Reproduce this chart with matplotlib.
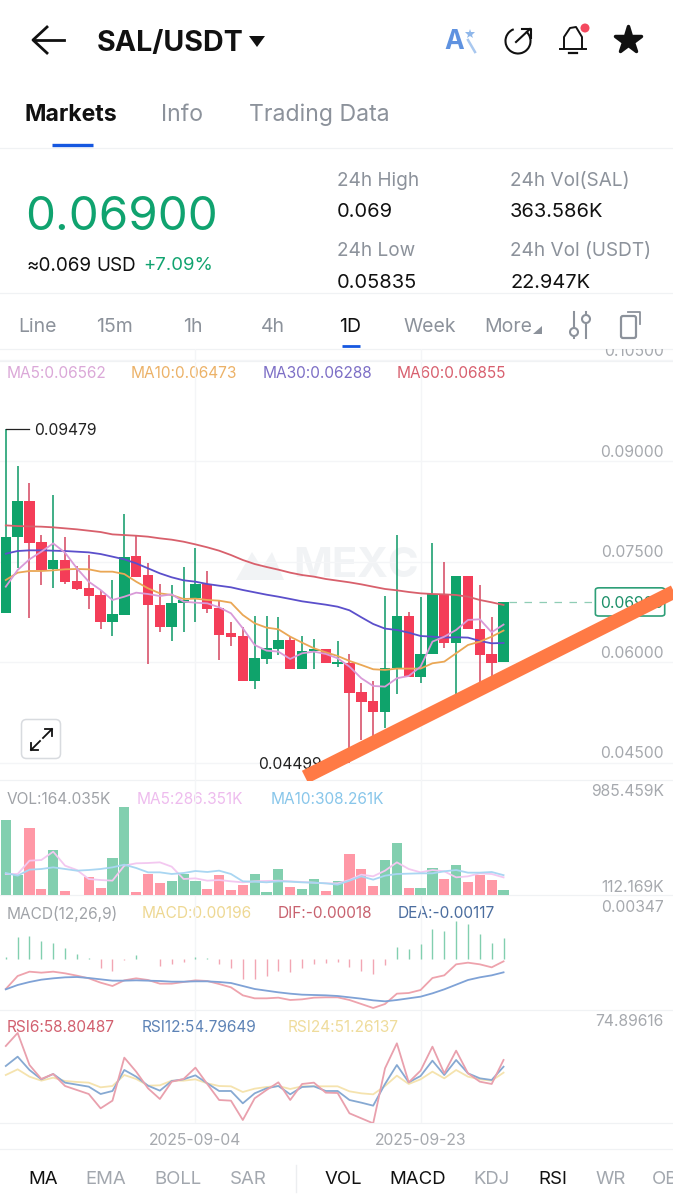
import matplotlib
matplotlib.use('Agg')
from matplotlib import pyplot as plt
from matplotlib.markers import MarkerStyle
from matplotlib.patches import FancyBboxPatch, Circle, Arc, Polygon

plt.rcParams['font.family'] = ['Inter', 'DejaVu Sans']

W, H = 673, 1200

# daily candles, newest last
opens = [0.06730, 0.07863, 0.08399, 0.07788, 0.07386, 0.07530, 0.07212, 0.07103, 0.07003, 0.06601, 0.06705,
         0.07580, 0.07296, 0.06859, 0.06531, 0.06879, 0.06954, 0.07162, 0.06805, 0.06432, 0.06397, 0.05717,
         0.06045, 0.06199, 0.06333, 0.05901, 0.06174, 0.06194, 0.05975, 0.05985, 0.05563, 0.05424, 0.05260,
         0.05921, 0.06690, 0.05786, 0.06124, 0.07018, 0.06283, 0.07284, 0.06492, 0.06124, 0.06010]
closes = [0.07863, 0.08399, 0.07773, 0.07376, 0.07530, 0.07202, 0.07088, 0.06988, 0.06601, 0.06720, 0.07575,
          0.07277, 0.06849, 0.06531, 0.06889, 0.06929, 0.07162, 0.06790, 0.06412, 0.06382, 0.05717, 0.06065,
          0.06219, 0.06338, 0.05901, 0.06169, 0.06194, 0.05985, 0.06, 0.05548, 0.05404, 0.05260, 0.05921,
          0.06690, 0.05786, 0.06124, 0.07018, 0.06283, 0.07284, 0.06492, 0.06109, 0.05985, 0.06900]
highs = [0.09479, 0.08926, 0.08667, 0.07897, 0.08493, 0.07873, 0.07435, 0.07599, 0.07078, 0.07227, 0.08205,
         0.07882, 0.07485, 0.07162, 0.07147, 0.07426, 0.07699, 0.07366, 0.06929, 0.06596, 0.06531, 0.06690,
         0.06695, 0.06671, 0.06373, 0.06392, 0.06343, 0.06194, 0.06313, 0.06124, 0.05687, 0.05727, 0.06989,
         0.07897, 0.06745, 0.06969, 0.07772, 0.07491, 0.07284, 0.07284, 0.07147, 0.06671, 0.06900]
lows = [0.06730, 0.07401, 0.06656, 0.07147, 0.07103, 0.07162, 0.07078, 0.06795, 0.06492, 0.06397, 0.06705,
        0.07277, 0.05970, 0.06457, 0.06323, 0.06447, 0.06596, 0.06730, 0.06040, 0.06248, 0.05717, 0.05598,
        0.05975, 0.06109, 0.05901, 0.05901, 0.05901, 0.05985, 0.05935, 0.04499, 0.04843, 0.04868, 0.05017,
        0.05528, 0.05786, 0.05697, 0.06124, 0.06219, 0.05513, 0.06492, 0.05697, 0.05786, 0.06010]

ma5 = [0.07127, 0.07376, 0.07535, 0.07649, 0.07773, 0.07634, 0.07401, 0.07202, 0.07078, 0.06929, 0.06978,
       0.07038, 0.07018, 0.06988, 0.07013, 0.06904, 0.06889, 0.06879, 0.06820, 0.06730, 0.06507, 0.06258,
       0.06174, 0.06159, 0.06050, 0.06134, 0.06159, 0.06124, 0.06060, 0.05935, 0.05762, 0.05647, 0.05637,
       0.05762, 0.05796, 0.05935, 0.06308, 0.06382, 0.06482, 0.06631, 0.06641, 0.06447, 0.06562]
ma10 = [0.07227, 0.07336, 0.07361, 0.07361, 0.07371, 0.07386, 0.07391, 0.07386, 0.07351, 0.07351, 0.07316,
        0.07202, 0.07103, 0.07028, 0.07003, 0.06944, 0.06949, 0.06929, 0.06919, 0.06889, 0.06705, 0.06581,
        0.06517, 0.06492, 0.06382, 0.06293, 0.06209, 0.06149, 0.06094, 0.06020, 0.05960, 0.05896, 0.05886,
        0.05906, 0.05906, 0.05906, 0.05985, 0.06010, 0.06134, 0.06258, 0.06308, 0.06382, 0.06473]
ma30 = [0.07619, 0.07659, 0.07669, 0.07669, 0.07664, 0.07659, 0.07649, 0.07639, 0.07614, 0.07575, 0.07535,
        0.07475, 0.07401, 0.07326, 0.07267, 0.07222, 0.07202, 0.07167, 0.07142, 0.07118, 0.07078, 0.07043,
        0.07008, 0.06978, 0.06944, 0.06909, 0.06884, 0.06859, 0.06829, 0.06775, 0.06671, 0.06571, 0.06502,
        0.06482, 0.06442, 0.06392, 0.06382, 0.06368, 0.06373, 0.06368, 0.06318, 0.06283, 0.06288]
ma60 = [0.08041, 0.08031, 0.08026, 0.08022, 0.08012, 0.07997, 0.07982, 0.07962, 0.07942, 0.07907, 0.07897,
        0.07887, 0.07873, 0.07848, 0.07828, 0.07798, 0.07758, 0.07714, 0.07664, 0.07599, 0.07525, 0.07465,
        0.07421, 0.07381, 0.07336, 0.07301, 0.07277, 0.07242, 0.07217, 0.07192, 0.07162, 0.07127, 0.07093,
        0.07073, 0.07048, 0.07028, 0.07018, 0.07013, 0.07003, 0.06978, 0.06929, 0.06894, 0.06855]

# volume in thousands
vol = [853.6, 309.9, 771.2, 171.5, 557.0, 155.0, 115.5, 286.8, 178.1, 474.6, 985.459, 145.1, 319.8, 230.8, 253.9,
       319.8, 253.9, 168.2, 309.9, 161.6, 211.0, 316.5, 141.8, 372.5, 188.0, 171.5, 273.6, 151.7, 253.9, 514.2,
       369.2, 197.8, 458.1, 626.2, 181.4, 181.4, 379.1, 270.3, 408.7, 244.0, 313.2, 263.8, 164.035]
vol_ma5 = [319.8, 319.8, 451.6, 458.1, 540.5, 402.1, 359.3, 270.3, 260.4, 253.9, 402.1, 425.2, 428.5, 435.1, 392.2,
           270.3, 276.9, 253.9, 260.4, 247.3, 237.4, 247.3, 250.6, 253.9, 247.3, 240.7, 234.1, 227.5, 227.5, 260.4,
           313.2, 296.7, 352.7, 435.1, 369.2, 336.2, 359.3, 346.1, 286.8, 296.7, 326.3, 319.8, 286.351]
vol_ma10 = [329.6, 303.3, 362.6, 369.2, 385.6, 369.2, 352.7, 359.3, 369.2, 385.6, 412.0, 379.1, 336.2, 336.2, 319.8,
            329.6, 349.4, 339.5, 352.7, 319.8, 247.3, 244.0, 237.4, 247.3, 244.0, 237.4, 234.1, 227.5, 214.3, 253.9,
            296.7, 263.8, 303.3, 319.8, 323.1, 326.3, 326.3, 346.1, 359.3, 332.9, 332.9, 339.5, 308.261]
vol_floor = 112.169

macd_hist = [0.00024, 0.00198, 0.00213, 0.00165, 0.0015, 0.00099, 0.00045, 0.00009, -0.00075, -0.00102, -0.00003,
             0.00039, 0.00003, -0.0006, -0.00045, -0.00021, 0.00024, 0.00009, -0.00042, -0.00078, -0.00174, -0.0018,
             -0.00147, -0.00102, -0.00114, -0.00078, -0.00045, -0.0003, -0.00021, -0.00066, -0.00102, -0.00132,
             -0.00054, 0.00108, 0.00093, 0.00135, 0.0027, 0.00255, 0.00347, 0.00318, 0.00225, 0.00144, 0.00196]
dif = [-0.00267, -0.0015, -0.00111, -0.0012, -0.00111, -0.00126, -0.00147, -0.00171, -0.0021, -0.0024, -0.00189,
       -0.00171, -0.00186, -0.00219, -0.00219, -0.00204, -0.00189, -0.00195, -0.00222, -0.00252, -0.00324, -0.00351,
       -0.00351, -0.00345, -0.00366, -0.0036, -0.00345, -0.00342, -0.00342, -0.00366, -0.00402, -0.00438, -0.00402,
       -0.00309, -0.00303, -0.00276, -0.00168, -0.00144, -0.00045, -0.0003, -0.00045, -0.00072, -0.00018]
dea = [-0.0027, -0.00231, -0.00204, -0.00183, -0.00171, -0.00162, -0.00159, -0.00168, -0.0018, -0.00192, -0.00192,
       -0.00189, -0.00192, -0.00195, -0.00201, -0.00201, -0.00198, -0.00198, -0.00204, -0.00213, -0.0024, -0.00267,
       -0.00282, -0.00297, -0.00309, -0.00318, -0.00321, -0.00324, -0.0033, -0.00342, -0.00354, -0.00369, -0.00378,
       -0.00366, -0.00351, -0.00336, -0.00306, -0.0027, -0.00228, -0.00186, -0.00162, -0.00144, -0.00117]

rsi6 = [67.13, 74.89616, 55.82, 47.49, 50.47, 43.32, 40.94, 38.56, 30.03, 34.59, 60.19, 51.86, 41.94, 35.59, 45.90,
        47.49, 54.24, 44.52, 34.99, 34.59, 23.09, 35.98, 40.94, 45.51, 34.99, 44.52, 45.31, 39.36, 39.16, 27.06,
        24.08, 21.10, 53.84, 68.72, 45.51, 52.45, 66.74, 50.86, 64.36, 50.86, 45.90, 44.52, 58.80487]
rsi12 = [55.23, 60.78, 52.85, 47.29, 50.47, 45.31, 44.12, 42.93, 38.56, 40.35, 52.85, 48.88, 43.52, 40.55, 46.30,
         47.29, 49.67, 44.91, 40.35, 40.35, 33.01, 38.96, 41.94, 43.32, 38.37, 42.73, 43.13, 40.35, 40.35, 34.99,
         33.40, 31.62, 44.52, 55.82, 45.51, 49.28, 58.40, 49.87, 58.80, 50.86, 47.89, 46.90, 54.79649]
rsi24 = [49.87, 53.24, 48.88, 46.50, 48.28, 46.30, 45.71, 45.31, 42.53, 43.32, 49.87, 47.49, 43.52, 43.72, 46.50,
         46.50, 47.29, 44.91, 43.32, 43.13, 39.75, 41.74, 42.73, 43.32, 41.54, 43.13, 43.13, 43.13, 43.13, 40.15,
         38.96, 38.36, 43.32, 49.48, 44.52, 47.29, 51.86, 47.89, 52.85, 48.88, 47.29, 46.50, 51.26137]

date_idx = [16, 35]
date_labels = ['2025-09-04', '2025-09-23']
price_ticks = [0.105, 0.09, 0.075, 0.06, 0.045]
price_labels = ['0.10500', '0.09000', '0.07500', '0.06000', '0.04500']
last_price = 0.069
low_price = 0.04499
high_price = 0.09479
trend_x = [25.25, 57.5]
trend_y = [0.0429, 0.0715]

days = list(range(len(closes)))

GREEN = '#0fa36b'
RED = '#f43d58'
LGREEN = '#82cfaf'
LRED = '#ff98a6'
GRID = '#f4f5f7'
TICK = '#a6a9ae'
GREY = '#8c929b'
BLACK = '#111111'
LW = 1.3

fig = plt.figure(figsize=(W / 100, H / 100), dpi=100, facecolor='white')


def panel(top, bottom, ylim):
    ax = fig.add_axes([0, 1 - bottom / H, 1, (bottom - top) / H], facecolor='none')
    ax.set_xlim(-0.489, 56.3)
    ax.set_ylim(*ylim)
    ax.set_xticks(date_idx)
    ax.set_xticklabels([])
    ax.set_yticks([])
    ax.tick_params(length=0)
    ax.grid(axis='x', color=GRID, lw=1)
    ax.set_axisbelow(True)
    for s in ax.spines.values():
        s.set_visible(False)
    return ax


# candles
ax = panel(349, 781, (0.0423, 0.10671))
ax.set_yticks(price_ticks)
ax.set_yticklabels([])
ax.grid(axis='y', color=GRID, lw=1)

for i in days:
    up = closes[i] >= opens[i]
    c = GREEN if up else RED
    wick = '#159c6c' if up else '#d64c65'
    ax.vlines(i, lows[i], highs[i], color=wick, lw=1.15, zorder=2)
    ax.bar(i, abs(closes[i] - opens[i]), bottom=min(opens[i], closes[i]), width=0.88, color=c, zorder=3)

ax.plot(days, ma60, color='#d8606c', lw=LW, zorder=4)
ax.plot(days, ma30, color='#5b4fcb', lw=LW, zorder=4)
ax.plot(days, ma10, color='#eaa755', lw=LW, zorder=4)
ax.plot(days, ma5, color='#d99ad8', lw=LW, zorder=4)

ax.plot([days[-1] + 0.5, 49.7], [last_price, last_price], color='#8fcdb5', lw=0.9, ls=(0, (6, 6)), zorder=2)
ax.plot([0, 2], [high_price, high_price], color='#222222', lw=0.9, zorder=4)
ax.text(2.35, high_price - 0.0002, '0.09479', fontsize=11.3, color='#222222', va='center', zorder=5)
ax.text(21.3, low_price - 0.0002, '0.04499', fontsize=11.3, color='#222222', va='center', zorder=5)

# axis labels sit ten pixels above their grid lines
for p, s in zip(price_ticks, price_labels):
    ax.text(55.54, p + 0.00135, s, fontsize=11.3, color=TICK, va='center', ha='right', clip_on=True)

# latest price tag under the trend line
box = FancyBboxPatch((49.75, 0.0669), 5.85, 0.0042, boxstyle='round,pad=0,rounding_size=0.3', mutation_aspect=0.0011,
                     fc='white', ec='#2e9f78', lw=1.2, zorder=6)
ax.add_patch(box)
ax.text(50.15, last_price - 0.0002, '0.06900', fontsize=11.3, color='#1b8f68', va='center', zorder=7)
ax.plot(trend_x, trend_y, color='#ff7a45', lw=10, solid_capstyle='butt', zorder=8)

# volume
ax_v = panel(781, 895, (vol_floor, vol_floor + 114 * 9.885))
for i in days:
    up = closes[i] >= opens[i]
    ax_v.bar(i, vol[i] - vol_floor, bottom=vol_floor, width=0.86, color=LGREEN if up else LRED, zorder=2)
ax_v.plot(days, vol_ma5, color='#f3c8f0', lw=LW, zorder=3)
ax_v.plot(days, vol_ma10, color='#a9d6f2', lw=LW, zorder=3)

# macd
ax_m = panel(895, 1010, (-0.00456, 0.00579))
for i in days:
    ax_m.vlines(i, 0, macd_hist[i], color=LGREEN if macd_hist[i] >= 0 else '#f2a6b3', lw=1.0, zorder=2)
ax_m.plot(days, dif, color='#eea3ad', lw=LW, zorder=3)
ax_m.plot(days, dea, color='#7fa2d6', lw=LW, zorder=3)

# rsi
ax_r = panel(1010, 1123, (21.3, 88.55))
ax_r.plot(days, rsi24, color='#f5e3ae', lw=LW, zorder=3)
ax_r.plot(days, rsi12, color='#86a9d2', lw=LW, zorder=3)
ax_r.plot(days, rsi6, color='#e9a0ad', lw=LW, zorder=3)
ax_r.set_xticklabels(date_labels, fontsize=11.3, color=TICK)
ax_r.tick_params(axis='x', pad=7)

# everything around the chart, in pixel coordinates
ui = fig.add_axes([0, 0, 1, 1], facecolor='none', zorder=-1)
ui.set_xlim(0, W)
ui.set_ylim(H, 0)
ui.axis('off')


def txt(x, y, s, size, color, weight='normal', ha='left'):
    ui.text(x, y + 2, s, fontsize=size, color=color, fontweight=weight, ha=ha, va='center', clip_on=True)


for y in [148, 293, 349, 361, 780, 895, 1010, 1123, 1149]:
    ui.plot([0, W], [y, y], color='#f0f2f4', lw=0.9)
ui.plot([296, 296], [1165, 1192], color='#eceef0', lw=1)

# watermark
ui.text(293, 566, 'MEXC', fontsize=30, color='#f1f3f5', fontweight='bold', va='center')
ui.add_patch(Polygon([[236, 580], [252, 552], [262, 568], [272, 552], [284, 580]], fc='#f1f3f5', ec='none'))

# header
ui.plot([34, 64], [40, 40], color=BLACK, lw=2)
ui.plot([47, 33, 47], [27, 40, 53], color=BLACK, lw=2)
txt(97, 41, 'SAL/USDT', 20.6, BLACK, 'bold')
ui.add_patch(Polygon([[249, 36], [265, 36], [257, 47]], fc=BLACK))
txt(444, 40, 'A', 19, '#5f92e0', 'bold')
ui.plot([468, 475], [40, 52], color='#a9c8ef', lw=1.8)
ui.plot([470], [34], marker='*', ms=7, color='#8fb7ea', mew=0)
ui.add_patch(Arc((518, 41), 25, 25, theta1=310, theta2=250, ec=BLACK, lw=1.5))
ui.plot([516, 530], [42, 29], color=BLACK, lw=1.5)
ui.plot([522, 531, 531], [29, 29, 38], color=BLACK, lw=1.5)
ui.plot([564, 564, 570, 576, 582, 582], [48, 37, 28, 27, 37, 48], color=BLACK, lw=1.4)
ui.plot([560, 586], [49, 49], color=BLACK, lw=1.4)
ui.plot([569, 577], [53, 53], color=BLACK, lw=1.6)
ui.add_patch(Circle((585, 28), 4.5, fc='#f4495f'))
ui.plot([628], [40], marker=MarkerStyle('*', joinstyle='round'), ms=20, color=BLACK, mec=BLACK, mew=2.5)

# tabs
txt(25, 113, 'Markets', 16.6, BLACK, 'bold')
txt(161, 113, 'Info', 16.6, GREY)
txt(249, 113, 'Trading Data', 16.6, GREY)
ui.plot([52, 93], [144.5, 144.5], color='#1557e0', lw=2.4, solid_capstyle='butt')

# quote
txt(25, 216, '0.06900', 34.2, '#10a36f')
txt(27, 264, '≈0.069', 13.6, BLACK)
txt(96, 264, 'USD', 13.6, BLACK)
txt(143, 264, '+7.09%', 13.4, '#10a36f')
txt(337, 179, '24h High', 13.7, GREY)
txt(337, 210, '0.069', 14.4, BLACK)
txt(337, 249, '24h Low', 13.7, GREY)
txt(337, 281, '0.05835', 14.4, BLACK)
txt(510, 179, '24h Vol(SAL)', 13.7, GREY)
txt(510, 210, '363.586K', 14.4, BLACK)
txt(510, 249, '24h Vol (USDT)', 13.7, GREY)
txt(510, 281, '22.947K', 14.4, BLACK)

# intervals
for x, s, c in [(18, 'Line', GREY), (96, '15m', GREY), (183, '1h', GREY), (261, '4h', GREY),
                (339, '1D', BLACK), (404, 'Week', GREY), (484, 'More', GREY)]:
    txt(x, 325, s, 14, c)
ui.plot([342, 360], [346, 346], color='#1557e0', lw=2, solid_capstyle='butt')
ui.add_patch(Polygon([[533, 334], [542, 334], [542, 326]], fc=GREY))
for x, cy in [(574, 332), (586, 319)]:
    ui.plot([x, x], [312, 338], color=GREY, lw=1.5)
    ui.add_patch(Circle((x, cy), 4, fc='white', ec=GREY, lw=1.5, zorder=3))
ui.add_patch(FancyBboxPatch((621, 316), 15, 22, boxstyle='round,pad=0,rounding_size=2', fc='none', ec=GREY, lw=1.6))
ui.plot([628, 640, 640], [312, 312, 324], color=GREY, lw=1.3)

# legends
txt(7, 372, 'MA5:0.06562', 11.1, '#dba8d8')
txt(131, 372, 'MA10:0.06473', 11.1, '#ecb268')
txt(263, 372, 'MA30:0.06288', 11.1, '#7d6fc6')
txt(397, 372, 'MA60:0.06855', 11.1, '#d8606f')
txt(7, 797, 'VOL:164.035K', 11.1, '#a0a3a8')
txt(137, 797, 'MA5:286.351K', 11.1, '#eebcee')
txt(271, 797, 'MA10:308.261K', 11.1, '#88c6ea')
txt(664, 790, '985.459K', 11.3, TICK, ha='right')
txt(664, 885, '112.169K', 11.3, TICK, ha='right')
txt(7, 912, 'MACD(12,26,9)', 11.1, '#a0a3a8')
txt(142, 912, 'MACD:0.00196', 11.1, '#eed893')
txt(278, 912, 'DIF:-0.00018', 11.1, '#c8626f')
txt(398, 912, 'DEA:-0.00117', 11.1, '#4b6d9f')
txt(664, 905, '0.00347', 11.3, TICK, ha='right')
txt(7, 1026, 'RSI6:58.80487', 11.1, '#d2606f')
txt(142, 1026, 'RSI12:54.79649', 11.1, '#5d83b6')
txt(288, 1026, 'RSI24:51.26137', 11.1, '#efdc9c')
txt(664, 1020, '74.89616', 11.3, TICK, ha='right')

# indicator selector
for x, s, c in [(28, 'MA', BLACK), (85, 'EMA', '#a2a7ae'), (154, 'BOLL', '#a2a7ae'), (230, 'SAR', '#a2a7ae'),
                (325, 'VOL', BLACK), (389, 'MACD', BLACK), (473, 'KDJ', '#a2a7ae'),
                (538, 'RSI', BLACK), (596, 'WR', '#a2a7ae'), (652, 'OBV', '#a2a7ae')]:
    txt(x, 1178, s, 13.4, c)

# expand button
btn = FancyBboxPatch((21.5, 719.5), 39, 39, boxstyle='round,pad=0,rounding_size=5', fc='white', ec='#d8dbdf', lw=1.1, zorder=20)
ui.add_patch(btn)
for a, b in [((31, 750), (40, 741)), ((43, 738), (52, 729))]:
    ui.plot([a[0], b[0]], [a[1], b[1]], color=BLACK, lw=1.3, zorder=21)
ui.plot([31, 31, 38], [743, 750, 750], color=BLACK, lw=1.3, zorder=21)
ui.plot([45, 52, 52], [729, 729, 736], color=BLACK, lw=1.3, zorder=21)

fig.savefig('out.png', dpi=100)
